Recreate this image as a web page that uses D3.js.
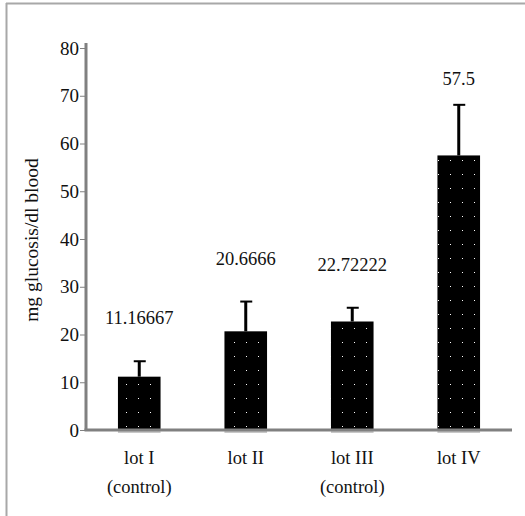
<!DOCTYPE html>
<meta charset="utf-8">
<script src="https://d3js.org/d3.v7.min.js"></script>
<style>
  body { margin: 0; background: #fff; }
</style>
<div id="chart"></div>
<script>
// Data
var lots = ["lot I", "lot II", "lot III", "lot IV"];
var subLabels = ["(control)", "", "(control)", ""];
var means = [11.16667, 20.6666, 22.72222, 57.5];
var valueLabels = ["11.16667", "20.6666", "22.72222", "57.5"];
var errTops = [14.4, 26.9, 25.6, 68.1];
var yTicks = [0, 10, 20, 30, 40, 50, 60, 70, 80];

var W = 525, H = 516;
var margin = {top: 48, right: 13, bottom: 86, left: 86};
var serif = "'Liberation Serif', 'Times New Roman', serif";

var svg = d3.select("#chart").append("svg")
    .attr("width", W)
    .attr("height", H)
    .attr("font-family", serif);

// frame lines (top + left only)
svg.append("line").attr("x1", 6).attr("y1", 3.5).attr("x2", W).attr("y2", 3.5)
  .attr("stroke", "#a8a8a8").attr("stroke-width", 2);
svg.append("line").attr("x1", 6.5).attr("y1", 3).attr("x2", 6.5).attr("y2", H)
  .attr("stroke", "#a8a8a8").attr("stroke-width", 2);

// dotted fill for the bars
var defs = svg.append("defs");
var pat = defs.append("pattern")
    .attr("id", "dots")
    .attr("patternUnits", "userSpaceOnUse")
    .attr("width", 12).attr("height", 14);
pat.append("rect").attr("width", 12).attr("height", 14).attr("fill", "#000");
pat.append("rect").attr("x", 6).attr("y", 6).attr("width", 1).attr("height", 1).attr("fill", "#fff");

var x = d3.scaleBand()
  .domain(lots)
  .range([margin.left, W - margin.right])
  .paddingInner(0.6)
  .paddingOuter(0.3);

var y = d3.scaleLinear()
  .domain([0, 80])
  .range([H - margin.bottom, margin.top]);

// Y axis
var yAxis = svg.append("g")
  .attr("transform", "translate(" + margin.left + ",0)")
  .call(d3.axisLeft(y).tickValues(yTicks).tickSize(6).tickPadding(1).tickFormat(d3.format("d")))
  .attr("font-family", serif)
  .attr("font-size", 19);
yAxis.select(".domain").attr("stroke", "#808080").attr("stroke-width", 3)
  .attr("d", "M0," + (margin.top - 5) + "V" + y(0));
yAxis.selectAll(".tick line").attr("stroke", "#808080");
yAxis.selectAll(".tick text").attr("fill", "#111");

// bars
svg.selectAll(".bar")
  .data(lots)
  .enter()
  .append("rect")
    .attr("class", "bar")
    .attr("x", function(d) { return x(d); })
    .attr("y", function(d, i) { return y(means[i]); })
    .attr("width", x.bandwidth())
    .attr("height", function(d, i) { return y(0) - y(means[i]); })
    .attr("fill", "url(#dots)");

// faint shadow under each bar
svg.selectAll(".shadow")
  .data(lots)
  .enter()
  .append("rect")
    .attr("x", function(d) { return x(d); })
    .attr("y", y(0) + 1)
    .attr("width", x.bandwidth())
    .attr("height", 2)
    .attr("fill", "#c8c8c8");

// X axis line
svg.append("line")
  .attr("x1", margin.left - 1.5).attr("x2", W - margin.right)
  .attr("y1", y(0)).attr("y2", y(0))
  .attr("stroke", "#808080").attr("stroke-width", 3);

// error bars
var err = svg.selectAll(".err")
  .data(lots)
  .enter()
  .append("g");
err.append("line")
  .attr("x1", function(d) { return x(d) + x.bandwidth() / 2; })
  .attr("x2", function(d) { return x(d) + x.bandwidth() / 2; })
  .attr("y1", function(d, i) { return y(means[i]); })
  .attr("y2", function(d, i) { return y(errTops[i]); })
  .attr("stroke", "#000").attr("stroke-width", 3);
err.append("line")
  .attr("x1", function(d) { return x(d) + x.bandwidth() / 2 - 5.5; })
  .attr("x2", function(d) { return x(d) + x.bandwidth() / 2 + 6.5; })
  .attr("y1", function(d, i) { return y(errTops[i]); })
  .attr("y2", function(d, i) { return y(errTops[i]); })
  .attr("stroke", "#000").attr("stroke-width", 2);

// value labels
svg.selectAll(".val")
  .data(lots)
  .enter()
  .append("text")
    .attr("x", function(d) { return x(d) + x.bandwidth() / 2; })
    .attr("y", function(d, i) { return y(errTops[i]) - (i == 3 ? 20 : 37); })
    .attr("text-anchor", "middle")
    .attr("font-size", 18.5)
    .attr("fill", "#111")
    .text(function(d, i) { return valueLabels[i]; });

// category labels
svg.selectAll(".cat")
  .data(lots)
  .enter()
  .append("text")
    .attr("x", function(d) { return x(d) + x.bandwidth() / 2; })
    .attr("y", 464)
    .attr("text-anchor", "middle")
    .attr("font-size", 18.5)
    .attr("fill", "#111")
    .text(function(d) { return d; });

svg.selectAll(".sub")
  .data(lots)
  .enter()
  .append("text")
    .attr("x", function(d) { return x(d) + x.bandwidth() / 2; })
    .attr("y", 493)
    .attr("text-anchor", "middle")
    .attr("font-size", 18.5)
    .attr("fill", "#111")
    .text(function(d, i) { return subLabels[i]; });

// Y title
svg.append("text")
  .attr("transform", "translate(38,240) rotate(-90)")
  .attr("text-anchor", "middle")
  .attr("font-size", 19.5)
  .attr("fill", "#111")
  .text("mg glucosis/dl blood");
</script>
